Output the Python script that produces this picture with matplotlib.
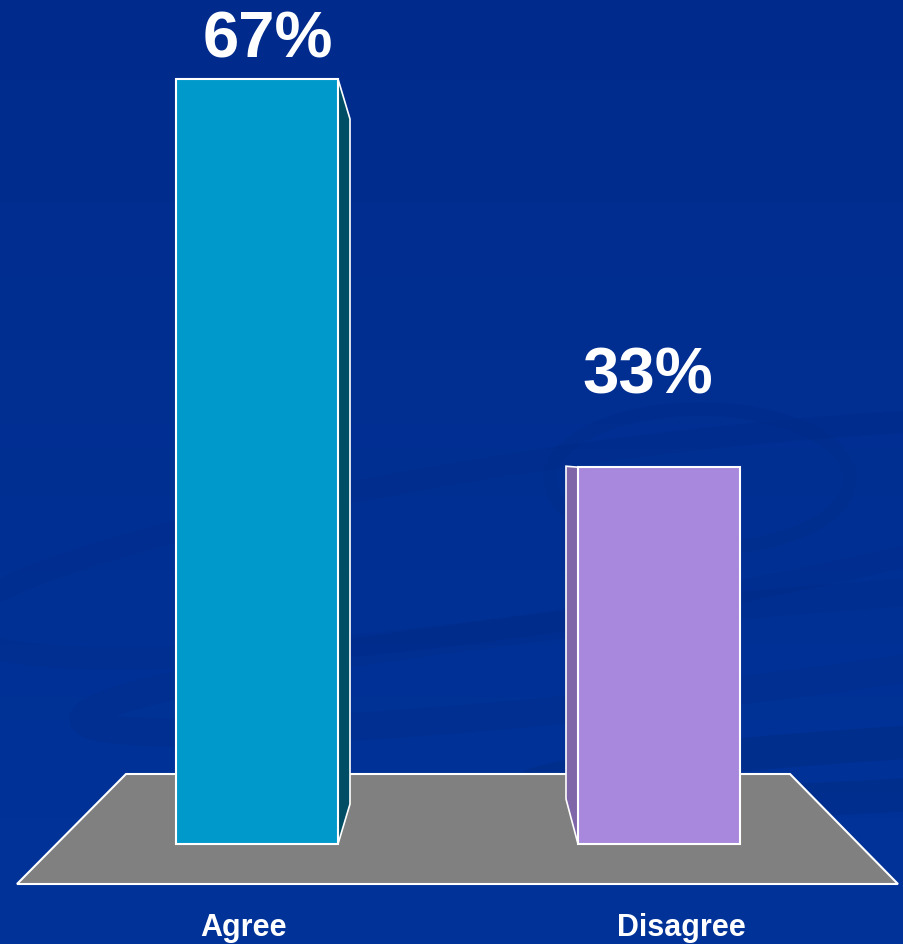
import numpy as np
import matplotlib.pyplot as plt
from matplotlib.patches import Polygon, Ellipse

categories = ["Agree", "Disagree"]
values = [67, 33]
value_labels = ["67%", "33%"]
front_colors = ["#0099cc", "#a888dd"]
side_colors = ["#004d66", "#7f66a8"]

# pixel layout (904 x 945)
W, H = 904, 945
BASE_PX = 845          # y of bar bottoms
TOP_PX = 80            # y of the 67% bar top
CENTER0, STEP = 257, 402
BAR_W_PX = 162
k = (BASE_PX - TOP_PX) / values[0]   # pixels per percent


def px_x(p):
    return (p - CENTER0) / STEP


def px_y(p):
    return (BASE_PX - p) / k


fig = plt.figure(figsize=(W / 100, H / 100), dpi=100)
ax = fig.add_axes([0, 0, 1, 1])
ax.set_xlim(px_x(0), px_x(W))
ax.set_ylim(px_y(H), px_y(0))
ax.axis("off")

# background: dark blue with faint swirls
grad = np.linspace(0, 1, 256)
bg = np.zeros((256, 1, 3))
bg[:, 0, 1] = 0.17 + 0.03 * grad
bg[:, 0, 2] = 0.55 + 0.05 * grad
ax.imshow(bg, extent=[px_x(0), px_x(W), px_y(H), px_y(0)], aspect="auto", zorder=0)

swirl = "#00246e"
for (cx, cy, ew, eh, ang, lw, al) in [
    (560, 540, 820, 240, -6, 16, 0.10),
    (700, 480, 300, 140, 0, 10, 0.09),
    (640, 660, 640, 150, -10, 20, 0.10),
    (900, 770, 560, 70, -12, 24, 0.22),
]:
    e = Ellipse((px_x(cx), px_y(cy)), ew / STEP, eh / k, angle=ang,
                fill=False, edgecolor=swirl, lw=lw, alpha=al, zorder=1)
    ax.add_patch(e)

# floor
floor = Polygon([(px_x(126), px_y(775)), (px_x(790), px_y(775)),
                 (px_x(898), px_y(885)), (px_x(17), px_y(885))],
                closed=True, facecolor="#808080", edgecolor="white", lw=1.5, zorder=2)
ax.add_patch(floor)

x = np.arange(len(categories))
bw = BAR_W_PX / STEP
ax.bar(x, values, width=bw, color=front_colors, edgecolor="white", lw=1.5, zorder=4)

# side faces
dx = 12 / STEP
xr = x[0] + bw / 2
ax.add_patch(Polygon([(xr, values[0]), (xr + dx, values[0] - 40 / k),
                      (xr + dx, 40 / k), (xr, 0)],
                     closed=True, facecolor=side_colors[0], edgecolor="white", lw=1.2, zorder=3))
xl = x[1] - bw / 2
ax.add_patch(Polygon([(xl, values[1]), (xl - dx, values[1] + 1 / k),
                      (xl - dx, 45 / k), (xl, 0)],
                     closed=True, facecolor=side_colors[1], edgecolor="white", lw=1.2, zorder=3))

font = "Liberation Sans"
label_dx = [11, -11]
label_gap = [22, 75]
for i, (v, t) in enumerate(zip(values, value_labels)):
    ax.text(x[i] + label_dx[i] / STEP, v + label_gap[i] / k, t, ha="center", va="baseline",
            color="white", fontsize=47, fontweight="bold", family=font, zorder=5)

cat_dx = [-14, 22]
for i, c in enumerate(categories):
    ax.text(x[i] + cat_dx[i] / STEP, px_y(936), c, ha="center", va="baseline",
            color="white", fontsize=22, fontweight="bold", family=font, zorder=5)

fig.savefig("out.png", dpi=100, facecolor="#003094")
